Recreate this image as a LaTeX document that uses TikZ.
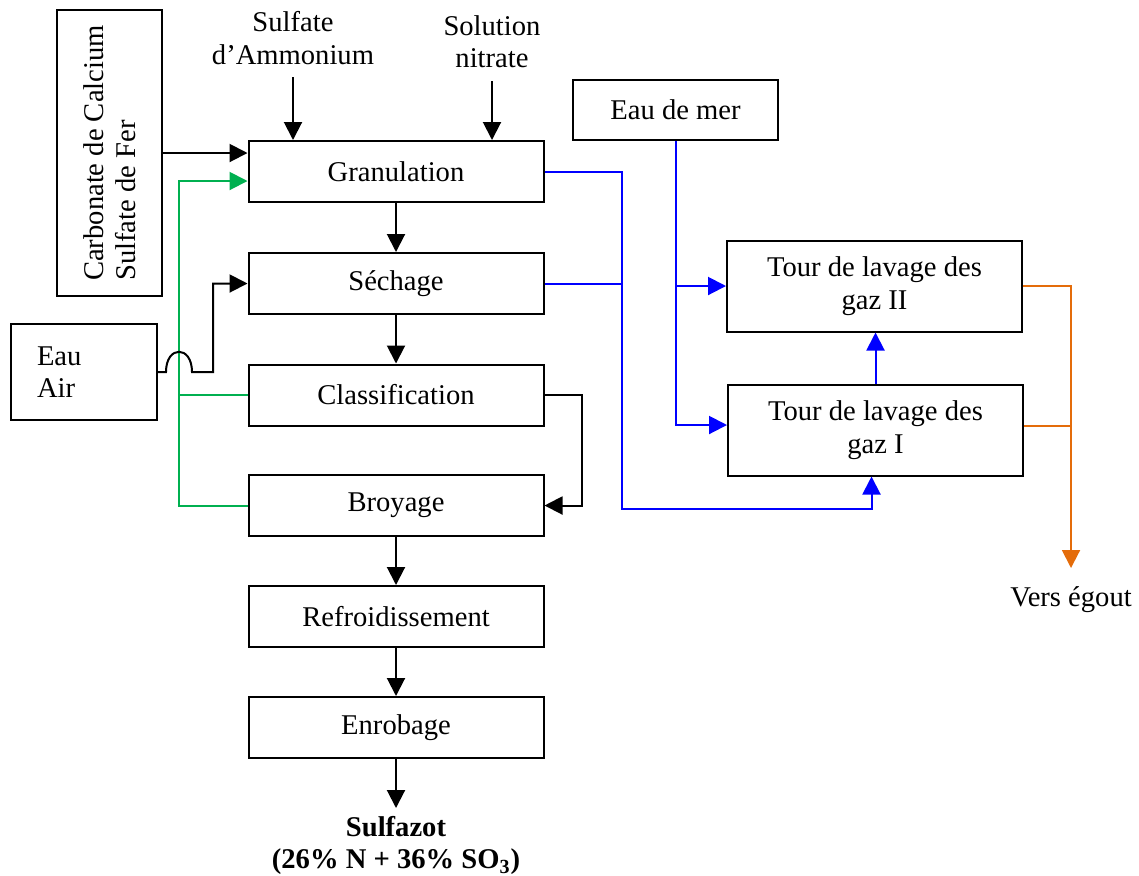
\documentclass[tikz,border=0pt]{standalone}
\usepackage{fontspec}
\setmainfont{Liberation Serif}
\usetikzlibrary{arrows.meta}
\definecolor{flowgreen}{HTML}{00B050}
\definecolor{flowblue}{HTML}{0000FF}
\definecolor{floworange}{HTML}{E46C0A}

\begin{document}
\begin{tikzpicture}[x=0.5pt, y=-0.5pt,
		every node/.style={font=\fontsize{14.3pt}{16.2pt}\selectfont},
		procbox/.style={draw, line width=1pt, minimum width=147.5pt, minimum height=30.5pt, inner sep=0pt},
		tourbox/.style={draw, line width=1pt, minimum width=147.5pt, minimum height=45.5pt, inner sep=0pt, align=center},
		prodtext/.style={align=center, font=\fontsize{14.3pt}{16.2pt}\selectfont\bfseries},
		flow/.style={line width=1pt, -{Triangle[width=9pt,length=9pt]}},
		pipe/.style={line width=1pt}]
	\useasboundingbox (0,0) rectangle (1139,875);

	% Define nodes with their coordinates
	\node[procbox] (gran) at (396,171.5) {Granulation};
	\node[procbox] (seche) at (396,283.5) {Séchage};
	\node[procbox] (classif) at (396,395) {Classification};
	\node[procbox] (broy) at (396,505.5) {Broyage};
	\node[procbox] (refroid) at (396,616.5) {Refroidissement};
	\node[procbox] (enrob) at (396,727.5) {Enrobage};

	\node[draw, line width=1pt, rotate=90, minimum width=143pt, minimum height=52.5pt, align=left] (carb) at (109.5,153) {Carbonate de Calcium\\Sulfate de Fer};
	\node[draw, line width=1pt, minimum height=48pt, text width=47pt, inner xsep=13pt, align=left] (eauair) at (84,372) {Eau\\Air};
	\node[draw, line width=1pt, minimum width=102.5pt, minimum height=30pt] (mer) at (675.5,110) {Eau de mer};
	\node[tourbox] (tour2) at (874.5,286) {Tour de lavage des\\gaz II};
	\node[tourbox] (tour1) at (875.5,430) {Tour de lavage des\\gaz I};

	\node[align=center] (sulf) at (293,38) {Sulfate\\d’Ammonium};
	\node[align=center] (nitr) at (492,42) {Solution\\nitrate};
	\node[anchor=north, inner sep=9pt] (egout) at (1071,568) {Vers égout};
	\node[prodtext, anchor=north, inner sep=4pt] (sulfazot) at (396,808) {Sulfazot\\(26\% N + 36\% SO\textsubscript{3})};

	% Feed arrows into the granulation
	\draw[flow] ([yshift=-3pt]sulf.south) -- (sulf.south |- gran.north);
	\draw[flow] ([yshift=-3pt]nitr.south) -- (nitr.south |- gran.north);
	\draw[flow] (carb.south) -- (carb.south -| gran.west);

	% Main line
	\draw[flow] (gran) -- (seche);
	\draw[flow] (seche) -- (classif);
	\draw[flow] (classif.east) -- ++(37,0) |- (broy.east);
	\draw[flow] (broy) -- (refroid);
	\draw[flow] (refroid) -- (enrob);
	\draw[flow] (enrob) -- (sulfazot);

	% Recycle (green)
	\draw[pipe, flowgreen] (classif.west) -- (179,395);
	\draw[flow, flowgreen] (broy.west) -| (179,181) -- ([yshift=-4.75pt]gran.west);

	% Eau / Air to the dryer, jumping over the recycle line
	\draw[flow] (eauair.east) -- (166,372) .. controls (166,345) and (192,345) .. (192,372) -- (213,372) |- (seche.west);

	% Gases (blue)
	\draw[flow, flowblue] (gran.east) -| (622,509) -| ([xshift=-2pt]tour1.south);
	\draw[pipe, flowblue] (seche.east) -- (622,283.5);
	\draw[flow, flowblue] (mer.south) |- (tour2.west);
	\draw[flow, flowblue] (mer.south) |- ([yshift=2.5pt]tour1.west);
	\draw[flow, flowblue] (tour1.north) -- (tour1.north |- tour2.south);

	% Waste water (orange)
	\draw[flow, floworange] (tour2.east) -| (egout.north);
	\draw[pipe, floworange] ([yshift=2pt]tour1.east) -- ([yshift=2pt]tour1.east -| egout.north);

\end{tikzpicture}
\end{document}
